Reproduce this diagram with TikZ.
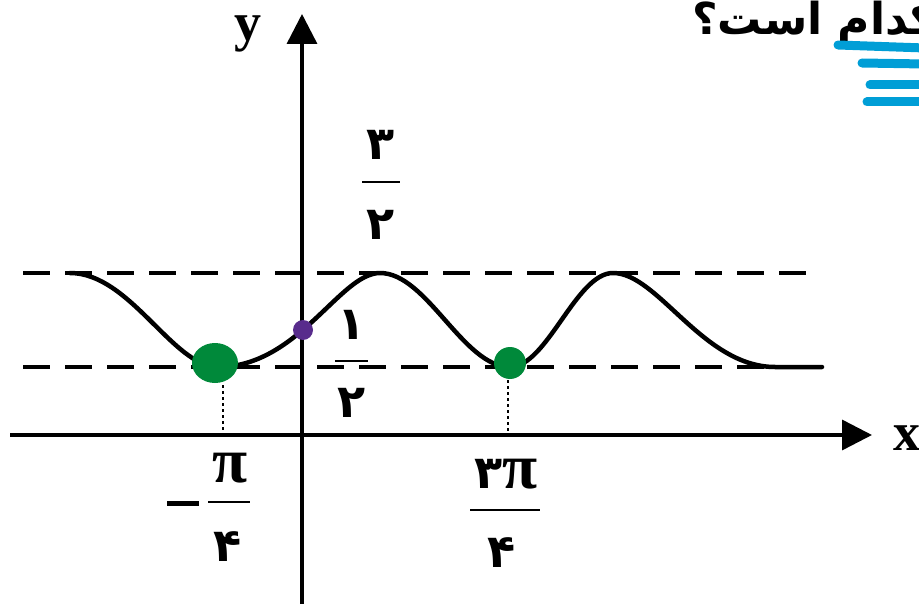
\documentclass[tikz,border=0pt]{standalone}
\usepackage{fontspec}
\setmainfont{Liberation Serif}
\newfontfamily\farsi[Script=Arabic]{DejaVu Sans}
\TeXXeTstate=1
\usetikzlibrary{arrows.meta}
\definecolor{marker}{RGB}{0,158,214}
\definecolor{dotgreen}{RGB}{0,137,58}
\definecolor{dotpurple}{RGB}{88,44,140}
\newcommand{\fadigit}[1]{{\farsi\bfseries\fontsize{46}{55}\selectfont #1}}
\newcommand{\pisym}{{\bfseries\fontsize{64}{66}\selectfont π}}
\tikzset{
  axis/.style={line width=3.5pt,-{Triangle[length=30pt,width=30pt]}},
  guide/.style={line width=4pt,dash pattern=on 27pt off 15pt},
  drop/.style={line width=1.8pt,dash pattern=on 3pt off 3pt},
  fracbar/.style={line width=2.8pt},
  axislabel/.style={font=\bfseries\fontsize{54}{60}\selectfont,inner sep=0pt},
  digit/.style={inner sep=0pt},
  highlight/.style={marker,line width=9pt,line cap=round},
}
\begin{document}
\begin{tikzpicture}[x=1pt,y=-1pt]
  \clip (0,0) rectangle (919,604);
  % dashed bounds at 3/2 and 1/2
  \draw[guide] (23,273) -- (807,273);
  \draw[guide] (23,367) -- (807,367);
  % axes
  \draw[axis] (10,435) -- (872,435);
  \draw[axis] (302,604) -- (302,14);
  \node[axislabel] (ylab) at (248,34) {y};
  \node[axislabel] (xlab) at (907,438) {x};
  % dotted drops to the x axis
  \draw[drop] (223,385) -- (223,435);
  \draw[drop] (508,380) -- (508,435);
  % the curve, max -> min -> max ...
  \draw[line width=4.5pt,line join=round,line cap=round]
    (70,273) .. controls (130,273) and (173,367) .. (218,367)
             .. controls (298,367) and (340,273) .. (380,273)
             .. controls (427,273) and (463,367) .. (510,367)
             .. controls (547,367) and (576,273) .. (613,273)
             .. controls (658,273) and (703,367) .. (775,367)
             -- (822,367);
  % marked points
  \fill[dotgreen] (215,363) ellipse [x radius=23pt,y radius=20pt];
  \fill[dotgreen] (510,363) circle (16pt);
  \fill[dotpurple] (303,330) circle (10pt);
  % 3/2
  \node[digit] (maxnum) at (381,145) {\fadigit{۳}};
  \draw[fracbar] (362,182) -- (400,182);
  \node[digit] (maxden) at (381,225) {\fadigit{۲}};
  % 1/2
  \node[digit] (minnum) at (352,325) {\fadigit{۱}};
  \draw[fracbar] (335,361) -- (368,361);
  \node[digit] (minden) at (352,403) {\fadigit{۲}};
  % -pi/4
  \draw[line width=5pt] (167,503) -- (199,503);
  \node[digit] (leftnum) at (230,468) {\pisym};
  \draw[fracbar] (208,502) -- (250,502);
  \node[digit] (leftden) at (228,547) {\fadigit{۴}};
  % 3pi/4
  \node[digit] (rightnum) at (506,474) {\fadigit{۳}\pisym};
  \draw[fracbar] (470,510) -- (540,510);
  \node[digit] (rightden) at (502,553) {\fadigit{۴}};
  % question text, cut at the right edge
  \node[anchor=base west,inner sep=0pt,
    font=\farsi\bfseries\fontsize{44}{50}\selectfont] (question) at (692,35)
    {\beginR کدام است؟\endR};
  % highlighter strokes
  \draw[highlight] (838,45) -- (925,48);
  \draw[highlight] (862,63) -- (925,64);
  \draw[highlight] (870,85) -- (925,85);
  \draw[highlight] (867,102) -- (925,102);
\end{tikzpicture}
\end{document}
